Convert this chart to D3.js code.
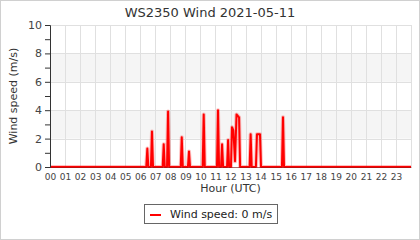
<!DOCTYPE html>
<html>
<head>
<meta charset="utf-8">
<script src="https://cdn.jsdelivr.net/npm/d3@7"></script>
<style>
  body { margin: 0; background: #fff; }
  svg { display: block; font-family: "DejaVu Sans", sans-serif; }
</style>
</head>
<body>
<div id="chart"></div>
<script>
const title = "WS2350 Wind 2021-05-11";
const yTitle = "Wind speed (m/s)";
const xTitle = "Hour (UTC)";
const legendLabel = "Wind speed: 0 m/s";
const hourLabels = ["00","01","02","03","04","05","06","07","08","09","10","11",
                    "12","13","14","15","16","17","18","19","20","21","22","23"];
const yTicks = [0, 2, 4, 6, 8, 10];
const bands = [[2, 4], [6, 8]];
// sample time (decimal hour) and wind speed
const hours = [0,
  6.40, 6.47, 6.54,
  6.71, 6.78, 6.85,
  7.49, 7.56, 7.63,
  7.78, 7.85, 7.92,
  8.69, 8.76, 8.83,
  9.17, 9.24, 9.31,
  10.15, 10.22, 10.29,
  11.10, 11.17, 11.24,
  11.37, 11.44, 11.51,
  11.77, 11.84, 11.91,
  12.03, 12.10, 12.19, 12.30, 12.40, 12.57, 12.64,
  13.27, 13.34, 13.41,
  13.69, 13.76, 13.96, 14.03,
  15.42, 15.49, 15.56,
  24];
const speeds = [0,
  0, 1.3, 0,
  0, 2.5, 0,
  0, 1.6, 0,
  0, 3.9, 0,
  0, 2.1, 0,
  0, 1.1, 0,
  0, 3.7, 0,
  0, 4.0, 0,
  0, 1.6, 0,
  0, 1.9, 0,
  0, 2.8, 2.6, 0.4, 3.7, 3.5, 0,
  0, 2.3, 0,
  0, 2.3, 2.3, 0,
  0, 3.5, 0,
  0];

const width = 420, height = 240;
const margin = {left: 50, right: 9, top: 25, bottom: 73};
const svg = d3.select("#chart").append("svg")
  .attr("width", width).attr("height", height);

svg.append("rect") // outer frame
  .attr("x", 0.5).attr("y", 0.5)
  .attr("width", width - 1).attr("height", height - 1)
  .attr("fill", "#fff").attr("stroke", "#d0d0d0");

const x = d3.scaleLinear().domain([0, 24]).range([margin.left, width - margin.right]);
const y = d3.scaleLinear().domain([0, 10]).range([height - margin.bottom, margin.top]);

svg.selectAll("rect.band") // alternating shaded bands
  .data(bands).enter().append("rect")
  .attr("class", "band")
  .attr("x", x(0)).attr("width", x(24) - x(0))
  .attr("y", d => y(d[1])).attr("height", d => y(d[0]) - y(d[1]))
  .attr("fill", "#f5f5f5");

svg.append("g") // vertical grid each hour
  .selectAll("line").data(d3.range(0, 25)).enter().append("line")
  .attr("x1", d => Math.round(x(d)) + 0.5).attr("x2", d => Math.round(x(d)) + 0.5)
  .attr("y1", y(10)).attr("y2", y(0))
  .attr("stroke", "#e0e0e0");
svg.append("g") // horizontal grid
  .selectAll("line").data(yTicks).enter().append("line")
  .attr("x1", x(0)).attr("x2", x(24))
  .attr("y1", d => Math.round(y(d)) + 0.5).attr("y2", d => Math.round(y(d)) + 0.5)
  .attr("stroke", "#e0e0e0");

// wind line, clipped to the plot so the zero line stays thin
svg.append("clipPath").attr("id", "plot")
  .append("rect")
  .attr("x", x(0)).attr("y", y(10) - 2)
  .attr("width", x(24) - x(0)).attr("height", y(0) - y(10) + 3);
const pts = hours.map((h, i) => [h, speeds[i]]);
const line = d3.line().x(d => x(d[0])).y(d => y(d[1]));
const series = svg.append("g").attr("clip-path", "url(#plot)");
series.append("path").datum(pts)
  .attr("d", line).attr("fill", "none")
  .attr("stroke", "red").attr("stroke-opacity", 0.25).attr("stroke-width", 4)
  .attr("stroke-linejoin", "round");
series.append("path").datum(pts)
  .attr("d", line).attr("fill", "none")
  .attr("stroke", "red").attr("stroke-width", 2)
  .attr("stroke-linejoin", "round");

// y axis with minor ticks every 1
const yAxis = svg.append("g")
  .attr("transform", `translate(${x(0)},0)`)
  .call(d3.axisLeft(y).tickValues(d3.range(0, 11)).tickSize(5)
    .tickFormat(d => yTicks.includes(d) ? d : ""));
yAxis.select(".domain").attr("stroke", "#333");
yAxis.selectAll(".tick line").attr("stroke", "#333");
yAxis.selectAll("text").attr("fill", "#444").style("font-size", "11px")
  .style("font-family", "DejaVu Sans");

const xAxis = svg.append("g")
  .attr("transform", `translate(0,${y(0)})`)
  .call(d3.axisBottom(x).tickValues(d3.range(0, 24)).tickSize(0).tickPadding(7)
    .tickFormat(d => hourLabels[d]));
xAxis.select(".domain").attr("stroke", "#8b1a1a").attr("stroke-opacity", 0.6);
xAxis.selectAll("text").attr("fill", "#444").style("font-size", "9px")
  .style("font-family", "DejaVu Sans");

svg.append("text")
  .attr("x", width / 2).attr("y", 17)
  .attr("text-anchor", "middle")
  .attr("fill", "#333").style("font-size", "13px")
  .text(title);

svg.append("text")
  .attr("transform", `translate(17,${(y(0) + y(10)) / 2}) rotate(-90)`)
  .attr("text-anchor", "middle")
  .attr("fill", "#333").style("font-size", "11px")
  .text(yTitle);

svg.append("text")
  .attr("x", (x(0) + x(24)) / 2).attr("y", 192)
  .attr("text-anchor", "middle")
  .attr("fill", "#333").style("font-size", "11px")
  .text(xTitle);

// legend
const legend = svg.append("g");
legend.append("rect")
  .attr("x", 144.5).attr("y", 204.5).attr("width", 133).attr("height", 19)
  .attr("fill", "#fff").attr("stroke", "#666");
legend.append("line")
  .attr("x1", 150).attr("x2", 161).attr("y1", 215).attr("y2", 215)
  .attr("stroke", "red").attr("stroke-width", 2);
legend.append("text")
  .attr("x", 170).attr("y", 218)
  .attr("fill", "#222").style("font-size", "11px")
  .text(legendLabel);
</script>
</body>
</html>
